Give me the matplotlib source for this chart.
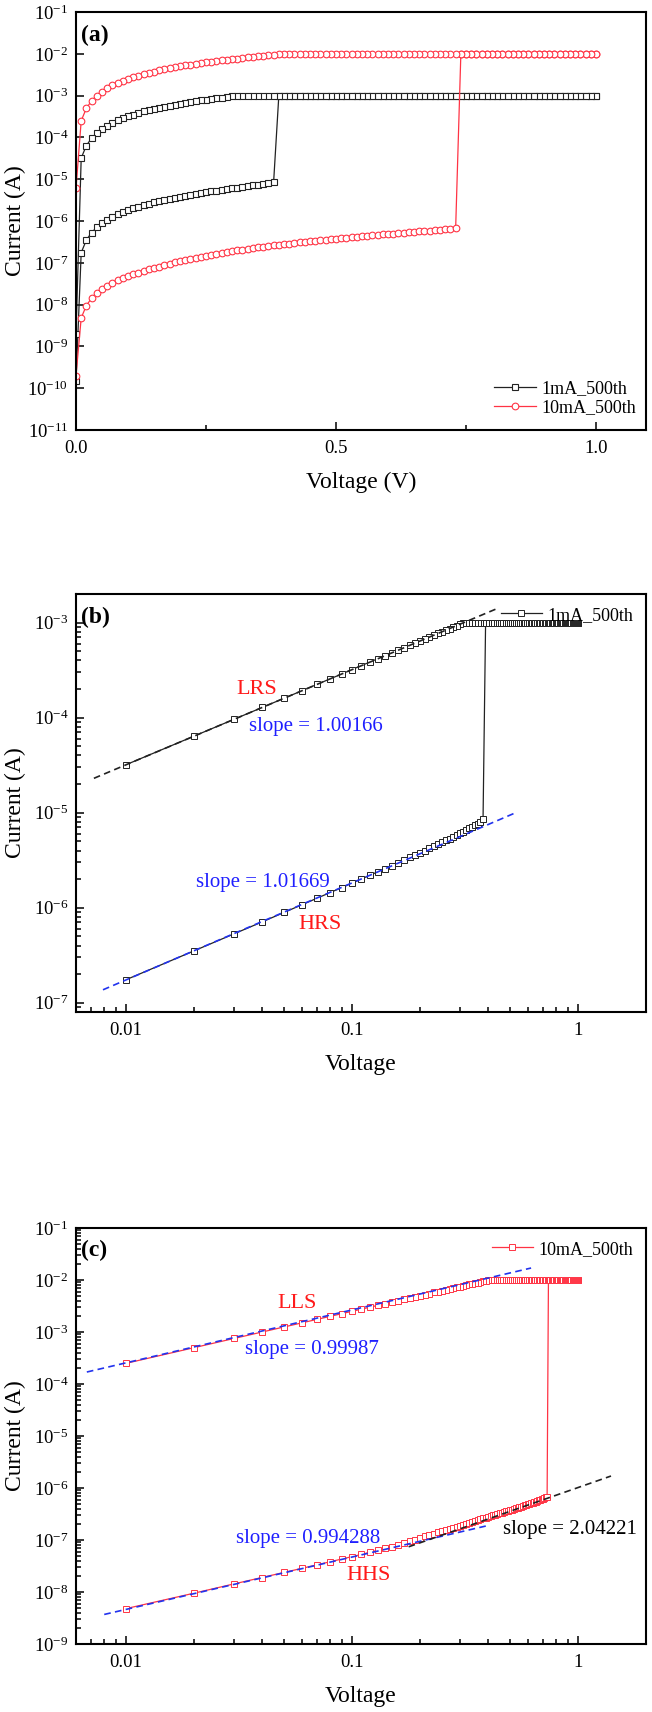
import matplotlib
matplotlib.use("Agg")
import matplotlib.pyplot as plt
import numpy as np
from matplotlib.ticker import (FixedLocator, FixedFormatter, LogLocator,
                               NullFormatter, NullLocator, LogFormatterMathtext)

plt.rcParams['font.family'] = ['Liberation Serif', 'DejaVu Serif']
plt.rcParams['mathtext.fontset'] = 'custom'
plt.rcParams['mathtext.rm'] = 'Liberation Serif'
plt.rcParams['mathtext.it'] = 'Liberation Serif:italic'
plt.rcParams['mathtext.bf'] = 'Liberation Serif:bold'

# ---- data ----
step = 0.01            # sweep step (V), sweep 0 -> 1.0 -> 0
v_max = 1.0
comp_1mA = 1e-3        # compliance levels (A)
comp_10mA = 1e-2

# 1mA_500th, forward sweep in HRS, V = 0.00 ... 0.38
i_hrs_1mA = [1.5e-10, 1.75e-7, 3.52e-7, 5.30e-7, 7.10e-7, 8.92e-7, 1.075e-6,
             1.26e-6, 1.445e-6, 1.63e-6, 1.82e-6, 2.01e-6, 2.20e-6, 2.39e-6,
             2.58e-6, 2.78e-6, 2.98e-6, 3.18e-6, 3.38e-6, 3.58e-6, 3.79e-6,
             4.00e-6, 4.21e-6, 4.43e-6, 4.65e-6, 4.87e-6, 5.10e-6, 5.33e-6,
             5.57e-6, 5.81e-6, 6.06e-6, 6.31e-6, 6.57e-6, 6.84e-6, 7.11e-6,
             7.39e-6, 7.68e-6, 7.98e-6, 8.6e-6]
# 1mA_500th, return sweep in LRS below compliance, V = 0.00 ... 0.30
i_lrs_1mA = [2e-9, 3.2e-5, 6.4e-5, 9.6e-5, 1.28e-4, 1.60e-4, 1.92e-4, 2.24e-4,
             2.56e-4, 2.88e-4, 3.21e-4, 3.53e-4, 3.85e-4, 4.17e-4, 4.49e-4,
             4.81e-4, 5.13e-4, 5.45e-4, 5.78e-4, 6.10e-4, 6.42e-4, 6.74e-4,
             7.06e-4, 7.38e-4, 7.70e-4, 8.03e-4, 8.35e-4, 8.67e-4, 8.99e-4,
             9.31e-4, 9.63e-4]

# 10mA_500th, forward sweep in HRS, V = 0.00 ... 0.73
i_hrs_10mA = [2e-10, 4.8e-9, 9.5e-9, 1.43e-8, 1.90e-8, 2.38e-8, 2.85e-8,
              3.33e-8, 3.80e-8, 4.28e-8, 4.75e-8, 5.28e-8, 5.81e-8, 6.36e-8,
              6.92e-8, 7.48e-8, 8.13e-8, 8.80e-8, 9.49e-8, 1.02e-7, 1.09e-7,
              1.17e-7, 1.24e-7, 1.32e-7, 1.40e-7, 1.48e-7, 1.57e-7, 1.64e-7,
              1.73e-7, 1.80e-7, 1.90e-7, 1.97e-7, 2.07e-7, 2.15e-7, 2.23e-7,
              2.33e-7, 2.41e-7, 2.51e-7, 2.60e-7, 2.70e-7, 2.79e-7, 2.88e-7,
              2.99e-7, 3.08e-7, 3.18e-7, 3.27e-7, 3.37e-7, 3.46e-7, 3.56e-7,
              3.65e-7, 3.75e-7, 3.85e-7, 3.95e-7, 4.08e-7, 4.18e-7, 4.28e-7,
              4.39e-7, 4.52e-7, 4.63e-7, 4.76e-7, 4.87e-7, 4.98e-7, 5.12e-7,
              5.24e-7, 5.35e-7, 5.50e-7, 5.64e-7, 5.76e-7, 5.91e-7, 6.06e-7,
              6.22e-7, 6.37e-7, 6.57e-7, 6.76e-7]
# 10mA_500th, return sweep in LRS below compliance, V = 0.00 ... 0.39
i_lrs_10mA = [6e-6, 2.5e-4, 5.0e-4, 7.5e-4, 1.0e-3, 1.25e-3, 1.5e-3, 1.75e-3,
              2.0e-3, 2.25e-3, 2.5e-3, 2.75e-3, 3.0e-3, 3.25e-3, 3.5e-3,
              3.75e-3, 4.0e-3, 4.25e-3, 4.5e-3, 4.75e-3, 5.0e-3, 5.25e-3,
              5.5e-3, 5.75e-3, 6.0e-3, 6.25e-3, 6.5e-3, 6.75e-3, 7.0e-3,
              7.2e-3, 7.45e-3, 7.7e-3, 7.95e-3, 8.2e-3, 8.45e-3, 8.7e-3,
              8.95e-3, 9.2e-3, 9.45e-3, 9.7e-3]

# fitted lines: (V start, I start), (V end, I end)
fit_lrs_1mA = [(0.0072, 2.3e-5), (0.44, 1.41e-3)]
fit_hrs_1mA = [(0.0079, 1.37e-7), (0.53, 1.0e-5)]
fit_lls_10mA = [(0.0067, 1.7e-4), (0.62, 1.7e-2)]
fit_hhs_10mA = [(0.008, 3.7e-9), (0.40, 1.9e-7)]
fit_hhs2_10mA = [(0.178, 7.4e-8), (1.4, 1.7e-6)]


def sweep(i_hrs, i_lrs, comp):
    n = int(round(v_max / step)) + 1
    v_all = np.round(np.arange(n) * step, 2)
    fwd = np.concatenate([i_hrs, np.full(n - len(i_hrs), comp)])
    back = np.concatenate([i_lrs, np.full(n - len(i_lrs), comp)])
    return np.concatenate([v_all, v_all[::-1]]), np.concatenate([fwd, back[::-1]])


v1, i1 = sweep(i_hrs_1mA, i_lrs_1mA, comp_1mA)
v10, i10 = sweep(i_hrs_10mA, i_lrs_10mA, comp_10mA)

black = '#222222'
red = '#ff3344'
txt_red = '#ff1a1a'
blue = '#1f1fff'
dash_blue = '#2233ee'

LABEL = 17
TICK = 13.5
NOTE = 15

fig = plt.figure(figsize=(6.52, 17.12), dpi=100)
W, H = 652.0, 1712.0


def make_ax(top, bottom):
    return fig.add_axes([76 / W, 1 - bottom / H, 570 / W, (bottom - top) / H])


def style(ax):
    for s in ax.spines.values():
        s.set_linewidth(1.5)
    ax.tick_params(which='both', direction='in', top=False, right=False,
                   labelsize=TICK, width=1.1)
    ax.tick_params(which='major', length=5.5, pad=5.5)
    ax.tick_params(which='minor', length=3.5)
    ax.tick_params(axis='x', which='major', pad=7)
    ax.yaxis.set_major_formatter(LogFormatterMathtext())
    ax.xaxis.set_label_coords(0.5, -0.10)
    ax.yaxis.set_label_coords(-0.088, 0.5)


def log_x(ax):
    ax.set_xscale('log')
    ax.set_xlim(0.006, 2.0)
    ax.xaxis.set_major_locator(FixedLocator([0.01, 0.1, 1]))
    ax.xaxis.set_major_formatter(FixedFormatter(['0.01', '0.1', '1']))
    ax.xaxis.set_minor_locator(LogLocator(base=10, subs=np.arange(2, 10), numticks=20))
    ax.xaxis.set_minor_formatter(NullFormatter())


def fit_line(ax, pts, color):
    (x0, y0), (x1, y1) = pts
    ax.plot([x0, x1], [y0, y1], ls=(0, (4, 2.6)), color=color, lw=1.2, zorder=5)


# ---------- (a) ----------
ax = make_ax(12, 430)
style(ax)
ax.plot(v1, i1, color=black, lw=0.9, marker='s', ms=4.2, mfc='white',
        mec=black, mew=0.8, label='1mA_500th')
ax.plot(v10, i10, color=red, lw=0.9, marker='o', ms=4.8, mfc='white',
        mec=red, mew=0.8, label='10mA_500th')
ax.set_yscale('log')
ax.set_ylim(1e-11, 1e-1)
ax.set_xlim(0, 1.096)
ax.yaxis.set_major_locator(FixedLocator(10.0 ** np.arange(-11, 0)))
ax.yaxis.set_major_formatter(LogFormatterMathtext())
ax.yaxis.set_minor_locator(NullLocator())
ax.xaxis.set_major_locator(FixedLocator([0.0, 0.5, 1.0]))
ax.xaxis.set_major_formatter(FixedFormatter(['0.0', '0.5', '1.0']))
ax.xaxis.set_minor_locator(FixedLocator([0.25, 0.75]))
ax.set_xlabel('Voltage (V)', fontsize=LABEL)
ax.set_ylabel('Current (A)', fontsize=LABEL)
ax.text(0.008, 0.945, '(a)', transform=ax.transAxes, fontsize=17,
        fontweight='bold', va='center', ha='left')
ax.legend(loc='lower right', frameon=False, fontsize=13, handlelength=2.3,
          labelspacing=0.1, borderaxespad=0.15, handletextpad=0.3,
          bbox_to_anchor=(1.0, 0.01))

# ---------- (b) ----------
ax = make_ax(594, 1012)
style(ax)
m = v1 > 0
ax.plot(v1[m], i1[m], color=black, lw=0.9, marker='s', ms=3.8, mfc='white',
        mec=black, mew=0.7, label='1mA_500th')
fit_line(ax, fit_lrs_1mA, black)
fit_line(ax, fit_hrs_1mA, dash_blue)
ax.set_yscale('log')
ax.set_ylim(8e-8, 2e-3)
ax.yaxis.set_major_formatter(LogFormatterMathtext())
log_x(ax)
ax.set_xlabel('Voltage', fontsize=LABEL)
ax.set_ylabel('Current (A)', fontsize=LABEL)
ax.text(0.038, 2.0e-4, 'LRS', color=txt_red, fontsize=16, ha='center', va='center')
ax.text(0.0349, 8.0e-5, 'slope = 1.00166', color=blue, fontsize=NOTE, ha='left', va='center')
ax.text(0.0204, 1.83e-6, 'slope = 1.01669', color=blue, fontsize=NOTE, ha='left', va='center')
ax.text(0.058, 6.6e-7, 'HRS', color=txt_red, fontsize=16, ha='left', va='center')
ax.text(0.008, 0.945, '(b)', transform=ax.transAxes, fontsize=17,
        fontweight='bold', va='center', ha='left')
ax.legend(loc='upper right', frameon=False, fontsize=13, handlelength=2.3,
          borderaxespad=0.3, handletextpad=0.3)

# ---------- (c) ----------
ax = make_ax(1228, 1644)
style(ax)
m = v10 > 0
ax.plot(v10[m], i10[m], color=red, lw=0.9, marker='s', ms=3.8, mfc='white',
        mec=red, mew=0.7, label='10mA_500th')
fit_line(ax, fit_lls_10mA, dash_blue)
fit_line(ax, fit_hhs_10mA, dash_blue)
fit_line(ax, fit_hhs2_10mA, black)
ax.set_yscale('log')
ax.set_ylim(1e-9, 1e-1)
ax.yaxis.set_major_locator(FixedLocator(10.0 ** np.arange(-9, 0)))
ax.yaxis.set_major_formatter(LogFormatterMathtext())
ax.yaxis.set_minor_locator(LogLocator(base=10, subs=np.arange(2, 10), numticks=20))
ax.yaxis.set_minor_formatter(NullFormatter())
log_x(ax)
ax.set_xlabel('Voltage', fontsize=LABEL)
ax.set_ylabel('Current (A)', fontsize=LABEL)
ax.text(0.0469, 3.5e-3, 'LLS', color=txt_red, fontsize=16, ha='left', va='center')
ax.text(0.0335, 4.6e-4, 'slope = 0.99987', color=blue, fontsize=NOTE, ha='left', va='center')
ax.text(0.0306, 1.09e-7, 'slope = 0.994288', color=blue, fontsize=NOTE, ha='left', va='center')
ax.text(0.0946, 2.06e-8, 'HHS', color=txt_red, fontsize=16, ha='left', va='center')
ax.text(0.467, 1.62e-7, 'slope = 2.04221', color='black', fontsize=NOTE, ha='left', va='center')
ax.text(0.008, 0.945, '(c)', transform=ax.transAxes, fontsize=17,
        fontweight='bold', va='center', ha='left')
ax.legend(loc='upper right', frameon=False, fontsize=13, handlelength=2.3,
          borderaxespad=0.3, handletextpad=0.3)

fig.savefig('out.png', dpi=100)
